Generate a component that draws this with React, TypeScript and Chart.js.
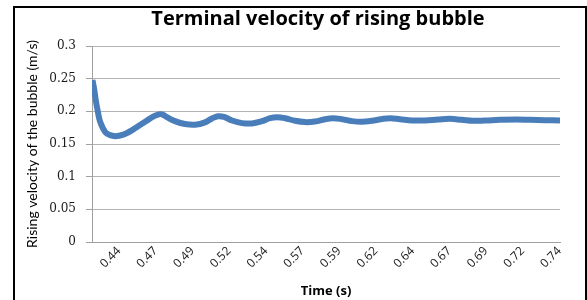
import React, { useEffect, useRef } from "react";
import { Chart, registerables } from "chart.js";

Chart.register(...registerables);

const chartTitle = "Terminal velocity of rising bubble";
const yAxisTitle = "Rising velocity of the bubble (m/s)";
const xAxisTitle = "Time (s)";

// time (s)
const timeValues = [
  0.4249, 0.426, 0.4273, 0.4287, 0.43, 0.4321, 0.4341, 0.4369, 0.4403, 0.4437,
  0.4478, 0.4525, 0.4573, 0.4621, 0.4662, 0.4696, 0.4723, 0.4757, 0.4811, 0.488,
  0.4948, 0.5016, 0.5063, 0.5104, 0.5145, 0.52, 0.5268, 0.5336, 0.5404, 0.5459,
  0.5506, 0.5561, 0.5629, 0.5697, 0.5765, 0.5833, 0.5888, 0.5949, 0.6017, 0.6085,
  0.6153, 0.6215, 0.6276, 0.6344, 0.6426, 0.6514, 0.6603, 0.6685, 0.6766, 0.6841,
  0.6923, 0.7025, 0.7141, 0.723, 0.7332, 0.7434,
];
// rising velocity (m/s)
const velocityValues = [
  0.248, 0.235, 0.215, 0.198, 0.185, 0.174, 0.167, 0.1635, 0.162, 0.163,
  0.166, 0.172, 0.179, 0.186, 0.192, 0.195, 0.1955, 0.191, 0.185, 0.1805,
  0.1795, 0.183, 0.189, 0.1925, 0.1915, 0.186, 0.182, 0.1815, 0.185, 0.1895,
  0.191, 0.1895, 0.1855, 0.1835, 0.1845, 0.188, 0.1895, 0.188, 0.185, 0.184,
  0.1855, 0.188, 0.1895, 0.188, 0.186, 0.186, 0.1875, 0.1885, 0.187, 0.1855,
  0.186, 0.187, 0.1875, 0.187, 0.1865, 0.186,
];

const xTickValues = [0.443, 0.468, 0.493, 0.518, 0.543, 0.568, 0.593, 0.618, 0.643, 0.668, 0.693, 0.718, 0.743];
const xTickLabels = ["0.44", "0.47", "0.49", "0.52", "0.54", "0.57", "0.59", "0.62", "0.64", "0.67", "0.69", "0.72", "0.74"];
const yTickValues = [0, 0.05, 0.1, 0.15, 0.2, 0.25, 0.3];
const yTickLabels = ["0", "0.05", "0.1", "0.15", "0.2", "0.25", "0.3"];

const X_MIN = 0.4246;
const X_MAX = 0.7434;

const framePlugin = {
  id: "frame",
  afterDraw(chart: any) {
    const ctx = chart.ctx;
    ctx.save();
    ctx.strokeStyle = "#000";
    ctx.lineWidth = 2;
    ctx.strokeRect(14, 7, 572, 400);
    ctx.fillStyle = "#000";
    ctx.font = "bold 20px 'Open Sans'";
    ctx.textAlign = "center";
    ctx.textBaseline = "middle";
    ctx.fillText(chartTitle, 318, 19);
    ctx.restore();
  },
};

export default function App() {
  const ref = useRef<HTMLCanvasElement | null>(null);
  useEffect(() => {
    document.body.style.margin = "0";
    const canvas = ref.current!;
    const chart = new Chart(canvas, {
      type: "line",
      data: {
        datasets: [
          {
            data: timeValues.map((t, i) => ({ x: t, y: velocityValues[i] })),
            borderColor: "#4a7ebb",
            borderWidth: 6,
            pointRadius: 0,
            tension: 0.4,
            fill: false,
          },
        ],
      },
      options: {
        animation: false,
        responsive: false,
        maintainAspectRatio: false,
        layout: { padding: { left: 0, top: 46, right: 27, bottom: 0 } },
        plugins: { legend: { display: false }, tooltip: { enabled: false }, title: { display: false } },
        scales: {
          x: {
            type: "linear",
            min: X_MIN,
            max: X_MAX,
            afterBuildTicks: (scale: any) => {
              scale.ticks = xTickValues.map((v) => ({ value: v }));
            },
            afterFit: (scale: any) => {
              scale.height = 58;
            },
            ticks: {
              autoSkip: false,
              maxRotation: 45,
              minRotation: 45,
              padding: 2,
              color: "#1a1a1a",
              font: { family: "'Open Sans'", size: 12 },
              callback: (_v: any, i: number) => xTickLabels[i],
            },
            grid: { display: false, drawTicks: false },
            border: { display: true, color: "#a0a0a0", width: 1 },
            title: {
              display: true,
              text: xAxisTitle,
              color: "#000",
              font: { family: "'Open Sans'", size: 13, weight: "bold" },
              padding: { top: 0, bottom: 1 },
            },
          },
          y: {
            min: 0,
            max: 0.3,
            afterBuildTicks: (scale: any) => {
              scale.ticks = yTickValues.map((v) => ({ value: v }));
            },
            afterFit: (scale: any) => {
              scale.width = 92;
            },
            ticks: {
              padding: 10,
              color: "#1a1a1a",
              font: { family: "'DejaVu Serif'", size: 12 },
              callback: (_v: any, i: number) => yTickLabels[i],
            },
            grid: { color: "#b4b4b4", lineWidth: 1, tickLength: 6, tickColor: "#a0a0a0" },
            border: { display: true, color: "#a0a0a0", width: 1 },
            title: {
              display: true,
              text: yAxisTitle,
              color: "#000",
              font: { family: "Lato", size: 14 },
              padding: { top: 24, bottom: 0 },
            },
          },
        },
      },
      plugins: [framePlugin],
    });
    return () => chart.destroy();
  }, []);
  return (
    <div style={{ position: "relative", width: 587, height: 300 }}>
      <canvas ref={ref} width={587} height={300} style={{ width: 587, height: 300, display: "block" }} />
    </div>
  );
}
